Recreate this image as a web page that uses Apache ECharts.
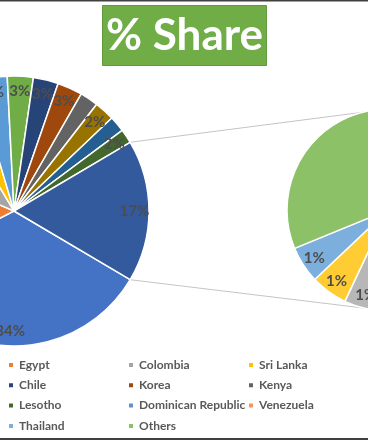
<!DOCTYPE html>
<html><head><meta charset="utf-8">
<script src="https://cdn.jsdelivr.net/npm/echarts@6/dist/echarts.min.js"></script>
<style>html,body{margin:0;padding:0;background:#fff}#c{width:368px;height:440px}</style>
</head><body><div id="c"></div>
<script>
// Primary pie (first 12 points) + "Other" aggregate broken out into secondary pie
const primaryNames = ['Country 1', 'Egypt', 'Colombia', 'Sri Lanka', 'Country 5', 'Country 6', 'Chile', 'Korea', 'Kenya', 'Country 10', 'Country 11', 'Lesotho'];
const primaryValues = [34, 13.9, 10, 4, 3.8, 3.1, 3, 3, 2.2, 2.4, 1.9, 1.7];
const secondaryNames = ['Dominican Republic', 'Venezuela', 'Country 15', 'Country 16', 'Thailand', 'Others'];
const secondaryValues = [1.5, 1.5, 1, 1, 1, 11];
const otherName = 'Other';
const primaryColors = ['#4472C4', '#ED7D31', '#A5A5A5', '#FFC000', '#5B9BD5', '#70AD47', '#264478', '#9E480E', '#636363', '#997300', '#255E91', '#43682B'];
const otherColor = '#345A9E';
const secondaryColors = ['#698ED0', '#F1975A', '#B7B7B7', '#FFCD33', '#7CAFDD', '#8CC168'];
const legendCols = [['Egypt', 'Chile', 'Lesotho', 'Thailand'], ['Colombia', 'Korea', 'Dominican Republic', 'Others'], ['Sri Lanka', 'Kenya', 'Venezuela']];

const otherValue = secondaryValues.reduce((a, b) => a + b, 0);
const primaryTotal = primaryValues.reduce((a, b) => a + b, 0) + otherValue;
const startAngle = -otherValue / primaryTotal * 180;

const C1 = [14, 211], R1 = 135;
const C2 = [388, 210], R2 = 101;

const primaryData = primaryNames.map((n, i) => ({ name: n, value: primaryValues[i], itemStyle: { color: primaryColors[i] } }))
  .concat([{ name: otherName, value: otherValue, itemStyle: { color: otherColor } }]);
const secondaryData = secondaryNames.map((n, i) => ({ name: n, value: secondaryValues[i], itemStyle: { color: secondaryColors[i] } }));

const labelStyle = { show: true, position: 'inside', formatter: p => Math.round(p.value) + '%', color: '#4d4d4d', fontFamily: 'Lato', fontWeight: 'bold', fontSize: 15 };
const transparentData = d => d.map(x => ({ name: x.name, value: x.value, itemStyle: { color: 'rgba(0,0,0,0)', borderWidth: 0 } }));

const a = otherValue / primaryTotal * Math.PI;
const p1 = [C1[0] + R1 * Math.cos(a), C1[1] - R1 * Math.sin(a)];
const p2 = [C1[0] + R1 * Math.cos(a), C1[1] + R1 * Math.sin(a)];
const q1 = [C2[0], C2[1] - R2], q2 = [C2[0], C2[1] + R2];

const chart = echarts.init(document.getElementById('c'));
chart.setOption({
  animation: false,
  title: { text: '% Share', left: 102, top: 5, padding: [5, 4, 4, 4], backgroundColor: '#70AD47', borderColor: '#62993c', borderWidth: 1,
    textStyle: { color: '#fff', fontFamily: 'Lato', fontWeight: 'bold', fontSize: 44, lineHeight: 52, width: 154, align: 'center' } },
  legend: legendCols.map((col, i) => ({ data: col, orient: 'vertical', left: 7 + i * 120, top: 358, padding: 0, icon: 'rect', itemWidth: 6, itemHeight: 6, itemGap: 6.3,
    textStyle: { color: '#595959', fontFamily: 'Lato', fontWeight: 'bold', fontSize: 12, lineHeight: 14 }, selectedMode: false })),
  graphic: [
    { type: 'line', shape: { x1: p1[0], y1: p1[1], x2: q1[0], y2: q1[1] }, style: { stroke: '#c4c4c4', lineWidth: 1 }, z: 0 },
    { type: 'line', shape: { x1: p2[0], y1: p2[1], x2: q2[0], y2: q2[1] }, style: { stroke: '#c4c4c4', lineWidth: 1 }, z: 0 },
    { type: 'rect', shape: { x: 0, y: 0, width: 368, height: 1.5 }, style: { fill: '#404040' } },
    { type: 'rect', shape: { x: 0, y: 438, width: 368, height: 2 }, style: { fill: '#404040' } }
  ],
  series: [
    { type: 'pie', center: C1, radius: R1, startAngle: startAngle, data: primaryData, label: { show: false }, labelLine: { show: false },
      itemStyle: { borderColor: '#fff', borderWidth: 1.5 }, silent: true, z: 2 },
    { type: 'pie', center: C1, radius: [R1 * 2 * 0.87 - R1, R1], startAngle: startAngle, data: transparentData(primaryData), label: labelStyle, labelLine: { show: false }, silent: true, z: 3 },
    { type: 'pie', center: C2, radius: R2, startAngle: startAngle, data: secondaryData, label: { show: false }, labelLine: { show: false },
      itemStyle: { borderColor: '#fff', borderWidth: 1.5 }, silent: true, z: 2 },
    { type: 'pie', center: C2, radius: [R2 * 2 * 0.84 - R2, R2], startAngle: startAngle, data: transparentData(secondaryData), label: labelStyle, labelLine: { show: false }, silent: true, z: 3 }
  ]
});
</script></body></html>
